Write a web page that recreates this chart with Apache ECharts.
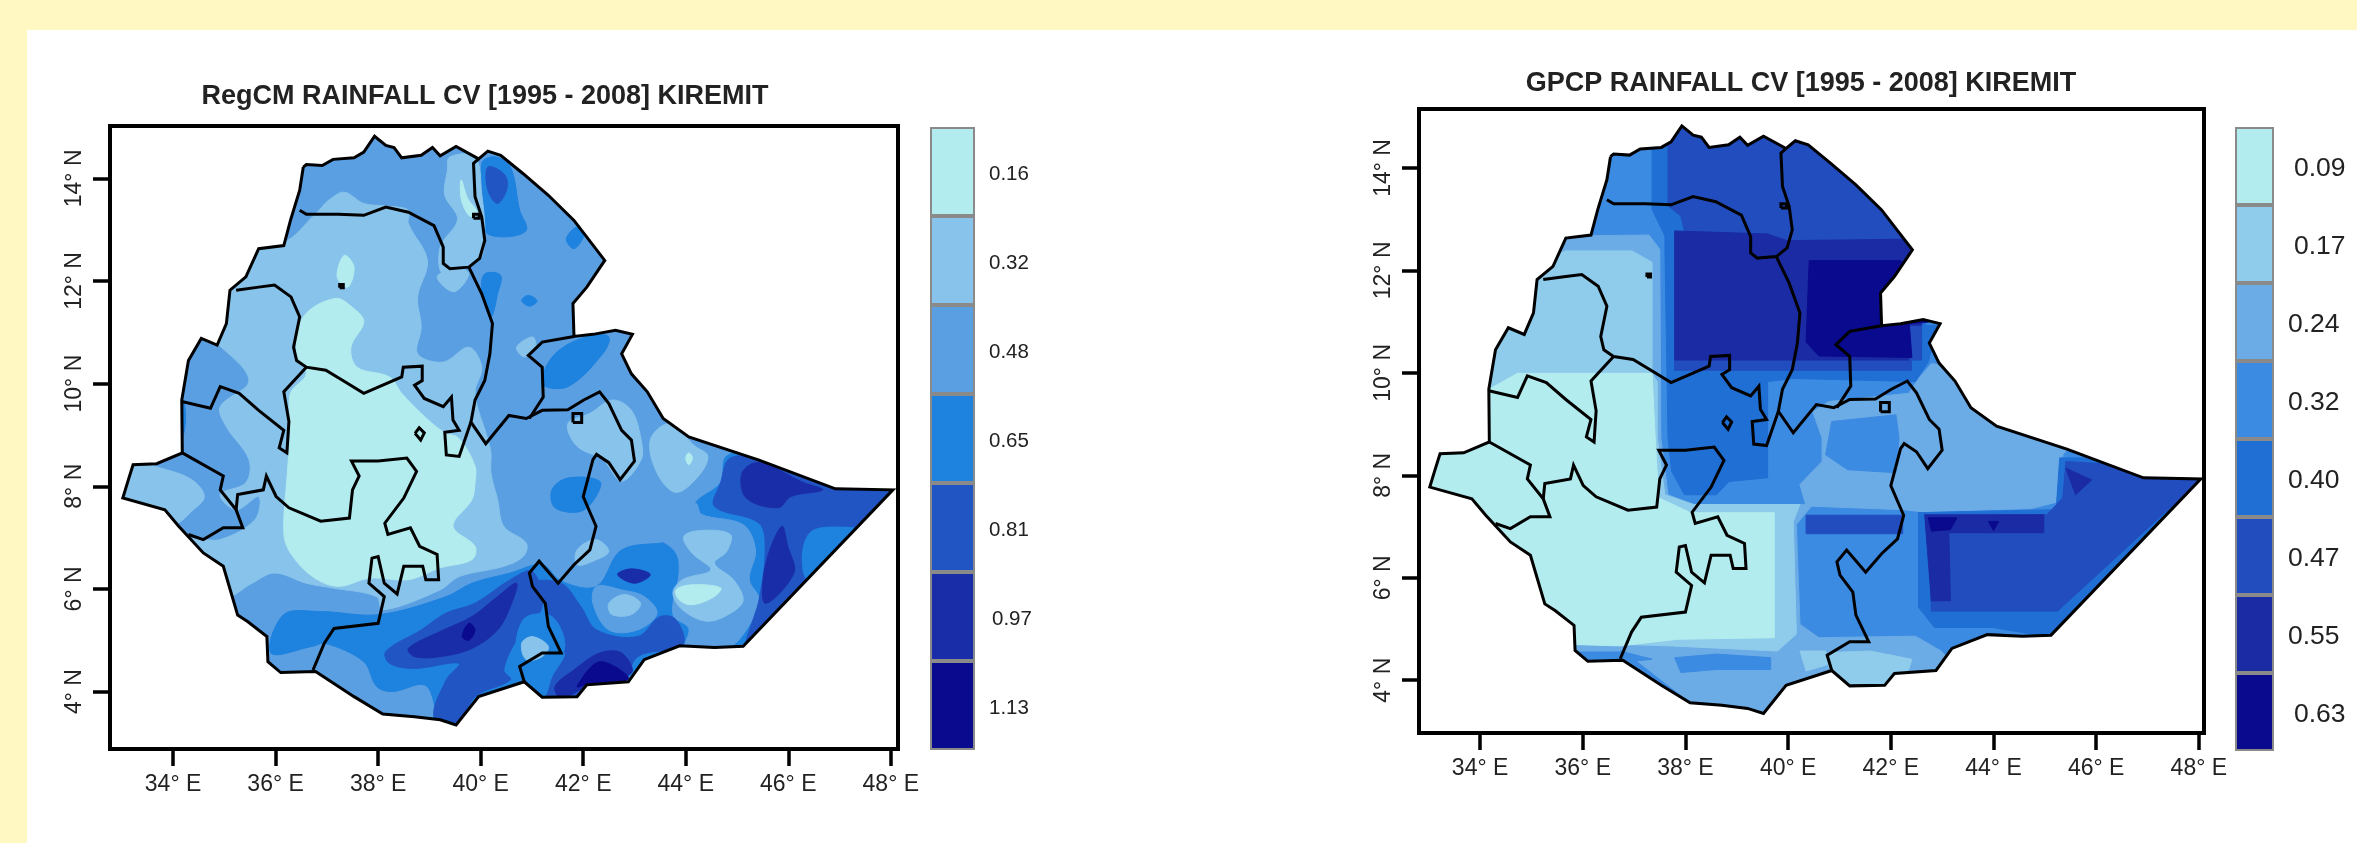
<!DOCTYPE html>
<html><head><meta charset="utf-8">
<style>
html,body{margin:0;padding:0;background:#FFF8C2;width:2357px;height:843px;overflow:hidden}
#sheet{position:absolute;left:27px;top:30px;right:0;bottom:0;background:#fff}
#c{position:absolute;left:0;top:0;width:2357px;height:843px;filter:blur(0.6px)}
</style>
<script src="https://cdn.jsdelivr.net/npm/echarts@6/dist/echarts.min.js"></script>
</head><body><div id="sheet"></div><div id="c"></div>
<script>
const regcmTitle='RegCM RAINFALL CV [1995 - 2008] KIREMIT';
const gpcpTitle='GPCP RAINFALL CV [1995 - 2008] KIREMIT';
const lonTicks=[34,36,38,40,42,44,46,48];
const latTicks=[4,6,8,10,12,14];
const regcmLegendLabels=['0.16','0.32','0.48','0.65','0.81','0.97','1.13'];
const regcmLegendColors=['#B3ECEE','#87C3EA','#5B9FE3','#1E82DF','#2155C3','#1A2DA8','#0A0A8E'];
const gpcpLegendLabels=['0.09','0.17','0.24','0.32','0.40','0.47','0.55','0.63'];
const gpcpLegendColors=['#B3ECEE','#8FCCEB','#6BABE6','#3C8BE2','#1F6FD5','#214DBE','#1A2BA4','#0A0A8E'];

// country outline, lon,lat
const outline=[36.54,14.22,36.6,14.27,36.91,14.25,37.12,14.37,37.53,14.4,37.72,14.51,37.93,14.82,38.15,14.64,38.31,14.6,38.46,14.4,38.84,14.45,39.06,14.6,39.21,14.44,39.52,14.62,39.96,14.38,40.14,14.53,40.39,14.45,40.83,14.09,41.32,13.67,41.82,13.18,42.42,12.4,42.07,11.88,41.8,11.56,41.82,10.92,42.19,10.96,42.63,11.04,42.96,10.96,42.75,10.58,42.94,10.19,43.25,9.84,43.56,9.32,44.06,8.96,45.43,8.51,46.92,7.95,48.04,7.93,45.12,4.88,44.56,4.86,43.88,4.89,43.19,4.62,42.88,4.19,42.07,4.13,41.88,3.9,41.2,3.89,40.85,4.19,39.96,3.9,39.52,3.35,39.21,3.45,38.71,3.51,38.09,3.56,37.53,3.9,36.78,4.39,36.1,4.37,35.85,4.58,35.83,5.07,35.46,5.36,35.26,5.49,34.98,6.44,34.59,6.7,34.11,7.22,33.84,7.54,33.02,7.77,33.12,8.1,33.22,8.42,33.68,8.44,34.18,8.65,34.17,9.68,34.3,10.45,34.55,10.88,34.86,10.75,35.04,11.17,35.11,11.82,35.42,12.08,35.67,12.63,36.16,12.69,36.29,13.18,36.47,13.77];
// internal borders, lon,lat
const boundaries=[
[36.47,13.38,36.6,13.3,37.22,13.3,37.72,13.28,38.15,13.44,38.59,13.34,39.09,13.08,39.27,12.66,39.27,12.34,39.4,12.24,39.77,12.27,39.98,12.44,40.08,12.79,40.02,13.25,39.89,13.64,39.86,14.29,39.96,14.38],
[39.77,12.27,40.02,11.75,40.23,11.17,40.18,10.58,40.08,10.06,39.89,9.68,39.81,9.25,40.1,8.83,40.55,9.38,40.89,9.32,41.2,9.48,41.7,9.49,42.01,9.68,42.32,9.84,42.5,9.61,42.75,9.09,42.94,8.9,43,8.49,42.72,8.13,42.5,8.46,42.26,8.62,42.19,8.52,42,7.8,42.25,7.22,42.13,6.76,41.82,6.47,41.51,6.11,41.14,6.54,40.95,6.31,41.01,6.05,41.26,5.72,41.32,5.27,41.57,4.75,41.2,4.75,40.76,4.49,40.85,4.19],
[41.82,10.92,41.2,10.81,40.93,10.55,41.2,10.32,41.22,9.74,40.95,9.32],
[35.23,11.82,35.67,11.88,35.98,11.92,36.3,11.69,36.47,11.3,36.35,10.71,36.41,10.45,36.6,10.32,36.98,10.26,37.36,10.03,37.72,9.81,38.46,10.13,38.49,10.32,38.86,10.34,38.86,10.06,38.71,9.97,38.9,9.71,39.27,9.55,39.43,9.74,39.46,9.29,39.58,9.09,39.3,9.05,39.33,8.61,39.58,8.58,39.81,9.25],
[36.6,10.32,36.16,9.84,36.26,9.26,36.22,8.65,36.07,8.75,36.16,9.09,35.67,9.48,35.29,9.81,34.92,9.94,34.73,9.52,34.17,9.65],
[34.18,8.65,34.98,8.2,34.92,7.93,35.23,7.54,35.36,7.19,34.98,7.19,34.59,6.96,34.3,7.06],
[35.23,7.54,35.26,7.84,35.76,7.93,35.82,8.2,36.01,7.8,36.26,7.58,36.88,7.32,37.44,7.38,37.5,7.93,37.63,8.2,37.48,8.49,38,8.49,38.56,8.55,38.75,8.29,38.5,7.77,38.13,7.28,38.19,7.06,38.63,7.19,38.81,6.83,39.15,6.67,39.18,6.18,38.93,6.18,38.87,6.44,38.5,6.44,38.37,5.9,38.12,6.11,38,6.63,37.88,6.6,37.82,6.11,38.12,5.85,38,5.33,37.14,5.23,36.95,4.94,36.73,4.42],
[38.72,9.03,38.8,9.14,38.9,9.04,38.83,8.9,38.72,9.03],
[41.8,9.24,41.97,9.24,41.97,9.42,41.8,9.42,41.8,9.24],
[37.25,11.87,37.32,11.87,37.32,11.93,37.25,11.93,37.25,11.87],
[39.86,13.22,39.97,13.22,39.97,13.3,39.86,13.3,39.86,13.22]
];
// colour-band patches: [legend band, lon,lat list], later ones paint over earlier ones
const regcmPatches=[
[3,[35.91,4.75,36.16,5.5,36.85,5.56,38.03,5.5,39.33,5.85,39.83,6.11,40.58,6.31,41.2,6.47,41.57,6.15,42.26,6.05,42.75,6.76,43.69,6.93,44,7.15,44.18,7.67,44.68,8.07,44.8,8.59,45.55,8.65,47.04,7.97,48.29,7.97,48.04,6.96,45.55,4.88,43.06,4.36,41.82,3.71,39.33,3.05,39.09,3.31,39.09,3.77,38.9,4.13,38.28,4,37.97,4.1,37.72,4.58,36.97,4.94,36.72,4.88]],
[2,[44.18,7.67,44.31,7.45,45.12,7.25,45.36,6.76,45.24,6.18,45.43,5.79,45.18,5.2,44.8,4.84,44,4.84,44.06,5.23,43.75,5.5,43.87,6.31,43.81,6.7,43.44,6.96,42.88,6.93,42.57,6.63,42.57,6.96]],
[4,[41.01,6.11,41.57,6.11,41.95,5.66,42.26,5.2,43.06,5.07,43.5,5.46,43.81,5.4,43.94,4.91,43.06,4.68,42.75,4.13,41.32,3.77,41.2,4.75,41.57,4.75,41.26,5.66]],
[2,[42.26,6.05,42.75,5.98,43.19,5.85,43.44,5.52,43.06,5.2,42.5,5.2,42.19,5.72]],
[4,[38.15,4.78,38.84,5.2,39.33,5.53,39.89,5.72,40.58,6.18,41.01,6.34,41.2,5.66,40.7,5,40.45,4.42,40.58,4.23,39.89,3.9,39.52,3.32,39.09,3.51,39.33,4.23,39.58,4.55,38.71,4.45,38.22,4.55]],
[5,[38.59,4.84,39.21,5.17,39.83,5.46,40.33,5.85,40.7,6.11,40.58,5.66,40.33,5.2,39.83,4.84,39.21,4.68,38.71,4.68]],
[6,[39.77,5.33,39.89,5.2,39.77,5,39.64,5.07]],
[3,[40.83,5.4,41.39,5.46,41.63,4.81,41.07,4.42,40.7,4.49]],
[3,[40.76,4.49,41.2,4.75,41.63,4.75,41.39,4.29,41.2,3.87,40.7,4.23]],
[5,[41.45,4.1,41.82,4.42,42.32,4.75,42.75,4.75,42.94,4.36,42.07,4.1,41.57,3.87]],
[6,[41.88,4.1,42.32,4.58,42.88,4.25,42.07,4.13]],
[5,[42.67,6.28,42.94,6.39,43.31,6.28,43,6.11]],
[4,[44.68,8.07,44.56,7.61,45.43,7.28,45.55,6.76,45.43,5.79,45.2,4.9,46.6,6.3,48.29,7.97,47.04,8,45.55,8.52,44.87,8.55]],
[3,[46.42,7.09,47.17,7.2,47.4,7.1,46.7,5.9,46.3,6.31]],
[5,[45.1,8.26,45.43,8.46,46.3,8.07,46.67,7.93,46.05,7.8,45.8,7.58,45.18,7.77]],
[5,[45.87,7.22,45.99,6.83,46.11,6.31,45.55,5.72,45.55,6.44]],
[3,[41.39,7.93,41.7,8.16,42.32,8.1,42.25,7.8,41.95,7.51,41.45,7.58]],
[3,[40.08,12.99,40.02,14.29,40.27,14.42,40.58,14.22,40.76,13.38,40.89,12.99,40.45,12.86]],
[4,[40.14,14.22,40.45,14.09,40.52,13.83,40.33,13.51,40.14,13.77]],
[3,[41.88,13.05,42.01,12.89,41.82,12.63,41.67,12.82]],
[3,[40.08,12.14,40.39,12.11,40.33,11.75,40.2,11.3,40.02,11.82]],
[3,[40.8,11.62,40.93,11.72,41.1,11.61,40.95,11.51]],
[3,[41.2,10,41.45,10.58,42.13,10.94,42.5,10.91,42.38,10.58,41.7,9.94]],
[3,[34.05,9.66,34.22,9.6,34.2,9,34.05,9]],
[1,[35.04,5.85,35.54,6.11,35.98,6.31,36.6,6.11,37.1,6.02,37.97,5.85,38.09,5.59,39.21,5.98,39.58,6.24,40.45,6.44,40.83,6.63,40.89,6.89,40.45,7.22,40.33,7.74,40.2,8.26,40.2,8.65,40.14,8.91,39.89,9.81,40.02,10.32,39.77,10.71,39.27,10.42,38.77,10.58,38.84,11.1,38.77,11.69,38.96,12.4,38.59,13.12,38.59,13.38,38.15,13.46,37.72,13.51,37.34,13.73,37.03,13.57,36.85,13.38,36.72,13.25,36.23,12.79,35.6,12.66,34.86,11.75,34.61,10.88,34.86,10.78,35.48,10.06,34.92,9.55,35.04,9.16,35.48,8.52,35.42,8.07,34.92,7.84,35.23,7.54,35.67,7.8,35.6,7.35,34.92,6.96,34.36,6.96,34.86,6.44]],
[1,[32.99,7.93,33.24,8.46,33.74,8.36,34.36,8.13,34.61,7.8,34.36,7.51,33.99,7.22,33.5,7.22,32.87,7.67]],
[1,[39.4,14.42,39.89,14.42,40.02,13.7,40.08,12.86,39.96,12.4,39.27,12.14,39.21,12.66,39.55,13.2,39.3,13.67,39.35,14.15]],
[1,[39.15,12.08,39.48,11.79,39.77,12.14,39.52,12.24]],
[1,[40.7,10.71,41.01,10.91,41.07,10.71,40.85,10.52]],
[1,[41.7,9.22,42.13,9.42,42.57,9.68,42.94,9.48,43.13,8.9,43.13,8.52,42.75,8.1,42.38,8.52,41.88,8.78]],
[1,[43.31,8.91,43.44,8.26,43.81,7.88,44.25,8.2,44.43,8.59,44.18,8.78,43.69,9.22]],
[1,[41.88,6.76,42.25,6.96,42.5,6.73,42.19,6.54,41.88,6.47]],
[1,[42.5,5.72,42.81,5.89,43.12,5.72,42.94,5.5,42.56,5.5]],
[1,[43.96,7.02,44.31,7.14,44.87,7.06,44.8,6.73,44.56,6.5,44.93,6.18,45.12,5.79,44.93,5.56,44.43,5.37,43.94,5.59,43.75,5.92,43.94,6.18,44.49,6.37,44.12,6.7]],
[1,[40.8,4.94,41.01,5.07,41.32,4.88,41.2,4.68,40.89,4.62]],
[0,[43.81,5.98,44.12,6.08,44.68,6.02,44.56,5.85,44.12,5.69,43.87,5.79]],
[0,[44,8.55,44.06,8.65,44.13,8.55,44.06,8.42]],
[0,[39.62,13.97,39.75,13.6,39.93,13.35,39.87,13.25,39.75,13.3,39.62,13.6]],
[0,[37.34,12.5,37.53,12.27,37.41,11.88,37.2,12.08]],
[0,[37.16,11.66,37.53,11.46,37.72,11.2,37.47,10.71,37.59,10.32,38.22,10.13,38.46,9.81,38.84,9.42,39.27,9.06,39.58,8.93,39.89,8.39,39.89,8.07,39.83,7.74,39.46,7.22,39.89,6.83,39.83,6.57,39.21,6.41,38.59,6.18,37.84,6.21,37.22,6.05,36.72,6.24,36.29,6.7,36.16,7.09,36.23,8.26,36.29,9.16,36.29,9.81,36.6,10.19,36.41,10.58,36.54,11.3]]
];
const gpcpPatches=[
[2,[33.98,11.77,35.6,12.67,37.29,12.69,37.5,12.41,37.52,8.73,37.66,7.62,38.23,7.4,40.48,7.43,40.16,7.04,40.23,5.09,40.6,4.83,42.48,4.86,42.98,4.57,43.98,3.53,42.73,2.9,38.98,2.9,37.98,3.66,36.98,4.44,36.79,4.57,35.6,4.57,32.83,4.57,32.83,11.77]],
[3,[37.79,4.44,38.6,4.51,39.66,4.44,39.66,4.21,38.6,4.21,37.91,4.15]],
[3,[36.73,4.57,37.35,4.41,36.98,4.37]],
[1,[40.23,4.57,40.73,4.57,40.79,4.31,40.35,4.18]],
[1,[40.79,4.54,41.6,4.57,42.41,4.41,42.35,4.21,41.98,3.92,41.23,3.89,40.79,4.25]],
[1,[33.98,11.64,35.66,12.38,36.96,12.38,37.35,12.16,37.35,9.99,37.45,9.83,37.45,8.73,37.6,7.62,38.16,7.43,40.23,7.43,40.1,7.1,40.16,4.9,39.79,4.57,37.73,4.67,36.73,4.7,32.83,4.7,32.83,11.64]],
[0,[33.98,9.57,34.73,9.99,37.35,9.99,37.41,8.73,37.48,7.56,38.1,7.27,39.73,7.27,39.73,4.83,37.85,4.8,36.73,4.67,35.73,4.7,32.83,4.7,32.83,9.57]],
[2,[40.48,9.24,40.79,9.44,42.35,9.6,42.54,9.89,42.79,10.18,43.48,10.08,44.35,8.98,45.6,8.72,45.35,8.4,45.29,7.49,44.73,7.35,42.6,7.29,42.23,7.33,40.35,7.4,40.23,7.82,40.66,8.27,40.66,8.73]],
[3,[40.85,9.05,42.1,9.18,42.16,8.73,42.1,8.05,41.16,8.11,40.73,8.4]],
[4,[42.54,7.27,45.22,7.33,45.29,8.34,46.35,8.34,46.98,8.05,48.09,8.05,48.09,7.7,45.22,4.86,44.98,4.86,43.98,5.03,42.85,5.03,42.54,5.42]],
[5,[42.73,7.2,45.04,7.23,45.35,7.56,45.41,8.27,46.35,8.21,46.98,7.97,48.09,7.97,45.25,5.35,43.45,5.35,42.79,5.35]],
[6,[42.66,7.23,44.98,7.23,44.98,6.88,43.13,6.88,43.16,5.55,42.79,5.55]],
[6,[45.41,8.14,45.91,7.91,45.6,7.62]],
[7,[42.73,7.17,43.29,7.17,43.16,6.94,42.79,6.91]],
[7,[43.9,7.1,44.1,7.1,44,6.92]],
[5,[40.35,7.22,42.23,7.22,42.23,6.86,40.35,6.86]],
[4,[37.35,14.87,43.98,14.87,43.98,12.67,42.66,10.93,42.9,10.93,42.73,10.21,42.48,9.83,40.1,9.89,39.6,9.83,39.6,8.73,39.6,7.95,38.85,7.88,38.6,7.62,37.98,7.62,37.73,8.08,37.66,8.73,37.6,12.41,37.6,12.67,37.35,13.19]],
[5,[37.66,14.87,43.98,14.87,43.98,12.61,39.98,12.58,39.6,12.71,37.98,12.77,37.91,13.06,37.66,13.26]],
[5,[37.79,10.25,42.4,10.25,42.4,10.05,37.79,10.05]],
[5,[42.33,10.98,42.6,11.05,42.6,10.25,42.33,10.25]],
[6,[37.79,12.77,39.6,12.71,39.98,12.58,42.35,12.61,42.6,12.48,42.6,10.93,42.35,10.93,42.35,10.25,37.79,10.25]],
[7,[40.41,12.19,42.2,12.19,42.73,11.64,42.73,10.99,42.36,10.96,42.41,10.3,40.6,10.33,40.35,10.6]]
];

const LON=[32.77,48.14], LAT=[2.88,15.02];
const LON2=[32.81,48.10], LAT2=[2.97,15.15];
const pairs=f=>{const r=[];for(let i=0;i<f.length;i+=2)r.push([f[i],f[i+1]]);return r;};
const font='"Liberation Sans",Arial,sans-serif';

function panel(idx,box,lon,lat,patches,baseBand,colors,title,legendBox,labels,legendFont,indents,margin){
  const g=[],x=[],y=[],s=[];
  const mainGrid=idx*2, legGrid=idx*2+1;
  g.push({left:box[0],top:box[1],width:box[2]-box[0],height:box[3]-box[1],show:true,borderColor:'#000',borderWidth:4,z:30});
  g.push({left:legendBox[0],top:legendBox[1],width:legendBox[2]-legendBox[0],height:legendBox[3]-legendBox[1]});
  x.push({type:'value',gridIndex:mainGrid,min:lon[0],max:lon[1],z:31,splitLine:{show:false},
    axisLine:{show:true,onZero:false,lineStyle:{color:'#000',width:4}},
    axisTick:{show:true,length:17,lineStyle:{color:'#000',width:3.5},customValues:lonTicks},
    axisLabel:{customValues:lonTicks,formatter:v=>v+'\u00B0 E',margin:24,fontFamily:font,fontSize:23,color:'#222'}});
  y.push({type:'value',gridIndex:mainGrid,min:lat[0],max:lat[1],z:31,splitLine:{show:false},
    axisLine:{show:true,onZero:false,lineStyle:{color:'#000',width:4}},
    axisTick:{show:true,length:17,lineStyle:{color:'#000',width:3.5},customValues:latTicks},
    axisLabel:{customValues:latTicks,rotate:90,formatter:v=>v+'\u00B0 N',margin:24,fontFamily:font,fontSize:23,color:'#222'}});
  x.push({type:'value',gridIndex:legGrid,min:0,max:1,show:false});
  y.push({type:'category',gridIndex:legGrid,inverse:true,data:labels,
    axisLine:{show:false},axisTick:{show:false},position:'right',
    axisLabel:{margin:margin,fontFamily:font,fontSize:legendFont,color:'#222',align:'left',
      formatter:(v,i)=>'{a'+indents[i]+'|'+v+'}',
      rich:{a0:{fontFamily:font,fontSize:legendFont,color:'#222',padding:[6,0,0,0]},
            a1:{fontFamily:font,fontSize:legendFont,color:'#222',padding:[6,0,0,idx?6:3]}}}});
  const all=[[baseBand,outline]].concat(patches);
  const base={type:'custom',coordinateSystem:'cartesian2d',xAxisIndex:mainGrid,yAxisIndex:mainGrid,silent:true,animation:false};
  s.push(Object.assign({},base,{z:2,clip:true,data:all.map((p,i)=>[i]),
    renderItem:(p,api)=>{const n=api.value(0),a=all[n];
      return {type:'polygon',shape:{points:pairs(a[1]).map(c=>api.coord(c)),smooth:(idx===0&&n>0)?0.35:0},style:{fill:colors[a[0]],stroke:colors[a[0]],lineWidth:1}};}}));
  s.push(Object.assign({},base,{z:3,clip:true,data:[[0]],
    renderItem:(p,api)=>{const o=pairs(outline);
      const c=[[lon[0],lat[0]],[lon[1],lat[0]],[lon[1],lat[1]],[lon[0],lat[1]],[lon[0],lat[0]]];
      const ring=c.concat(o,[o[0]],[c[0]]);
      return {type:'polygon',shape:{points:ring.map(q=>api.coord(q))},style:{fill:'#fff'}};}}));
  const lines=[outline.concat(outline.slice(0,2))].concat(boundaries);
  s.push(Object.assign({},base,{z:4,clip:true,data:lines.map((l,i)=>[i]),
    renderItem:(p,api)=>({type:'polyline',shape:{points:pairs(lines[api.value(0)]).map(c=>api.coord(c))},style:{stroke:'#000',fill:null,lineWidth:3,lineJoin:'miter'}})}));
  s.push({type:'bar',xAxisIndex:legGrid,yAxisIndex:legGrid,barWidth:'100%',silent:true,animation:false,
    data:labels.map((l,i)=>({value:1,itemStyle:{color:colors[i],borderColor:'#8a8a8a',borderWidth:2}}))});
  return {g,x,y,s};
}
const a=panel(0,[110,126,898,749],LON,LAT,regcmPatches,2,regcmLegendColors,regcmTitle,[930,127,975,750],regcmLegendLabels,20.5,[0,0,0,0,0,1,0],14);
const b=panel(1,[1419,109,2204,733],LON2,LAT2,gpcpPatches,3,gpcpLegendColors,gpcpTitle,[2235,127,2274,751],gpcpLegendLabels,26.5,[1,1,0,0,0,0,0,1],14);
const chart=echarts.init(document.getElementById('c'),null,{renderer:'canvas',width:2357,height:843});
chart.setOption({animation:false,backgroundColor:'transparent',
  title:[
   {text:regcmTitle,left:480,top:92,textAlign:'center',textVerticalAlign:'middle',textStyle:{fontFamily:font,fontWeight:'bold',fontSize:27,color:'#222'}},
   {text:gpcpTitle,left:1796,top:79,textAlign:'center',textVerticalAlign:'middle',textStyle:{fontFamily:font,fontWeight:'bold',fontSize:27,color:'#222'}}],
  grid:a.g.concat(b.g),xAxis:a.x.concat(b.x),yAxis:a.y.concat(b.y),series:a.s.concat(b.s)});
</script></body></html>
